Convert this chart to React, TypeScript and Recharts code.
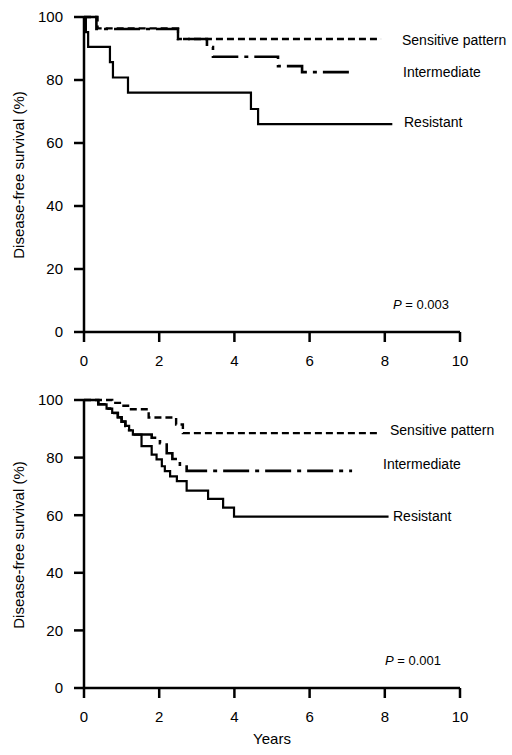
import React from 'react';
import { LineChart, Line, XAxis, YAxis, Label } from 'recharts';

// years / survival (%)
const topSensitive = [
  { t: 0, s: 100 }, { t: 0.36, s: 96.4 }, { t: 2.5, s: 93 }, { t: 7.9, s: 93 },
];
const topIntermediate = [
  { t: 0, s: 100 }, { t: 0.33, s: 96.2 }, { t: 2.5, s: 93 }, { t: 3.27, s: 90.5 },
  { t: 3.43, s: 87.4 }, { t: 5.16, s: 84.4 }, { t: 5.8, s: 82.5 }, { t: 7.2, s: 82.5 },
];
const topResistant = [
  { t: 0, s: 100 }, { t: 0.05, s: 95.2 }, { t: 0.11, s: 90.5 }, { t: 0.69, s: 85.7 },
  { t: 0.77, s: 80.8 }, { t: 1.17, s: 76 }, { t: 4.44, s: 70.8 }, { t: 4.63, s: 66 },
  { t: 8.2, s: 66 },
];

const botSensitive = [
  { t: 0, s: 100 }, { t: 0.75, s: 99 }, { t: 1.05, s: 98 }, { t: 1.25, s: 96.8 },
  { t: 1.72, s: 93.9 }, { t: 2.45, s: 91.5 }, { t: 2.63, s: 88.5 }, { t: 7.8, s: 88.5 },
];
const botIntermediate = [
  { t: 0, s: 100 }, { t: 0.38, s: 98.5 }, { t: 0.6, s: 97 }, { t: 0.75, s: 95.5 },
  { t: 0.9, s: 94 }, { t: 1.0, s: 92.5 }, { t: 1.1, s: 91 }, { t: 1.2, s: 89.5 },
  { t: 1.3, s: 88 }, { t: 1.8, s: 86.9 }, { t: 2.02, s: 85 }, { t: 2.2, s: 81.5 },
  { t: 2.35, s: 79.5 }, { t: 2.55, s: 77.5 }, { t: 2.73, s: 75.4 }, { t: 7.13, s: 75.4 },
];
const botResistant = [
  { t: 0, s: 100 }, { t: 0.38, s: 98.5 }, { t: 0.6, s: 97 }, { t: 0.75, s: 95.5 },
  { t: 0.9, s: 94 }, { t: 1.0, s: 92.5 }, { t: 1.1, s: 91 }, { t: 1.2, s: 89.5 },
  { t: 1.3, s: 88 }, { t: 1.53, s: 84 }, { t: 1.8, s: 81 }, { t: 1.93, s: 79.4 },
  { t: 2.07, s: 77 }, { t: 2.15, s: 75.3 }, { t: 2.29, s: 73.5 }, { t: 2.47, s: 71.8 },
  { t: 2.73, s: 68.5 }, { t: 3.3, s: 65.7 }, { t: 3.7, s: 62.6 }, { t: 3.99, s: 59.5 },
  { t: 8.1, s: 59.5 },
];

const xTicks = [0, 2, 4, 6, 8, 10];
const yTicks = [0, 20, 40, 60, 80, 100];

const FONT = '"Liberation Sans", Arial, sans-serif';
const tickStyle = { fontSize: 15, fill: '#000', fontFamily: FONT };
const axisLine = { stroke: '#000', strokeWidth: 2.5 };
const tickLine = { stroke: '#000', strokeWidth: 2.5 };

const SENS_DASH = '7 4';
const INT_DASH = '26 6 4 6';

type Pt = { t: number; s: number };

interface PanelProps {
  sens: Pt[];
  inter: Pt[];
  resist: Pt[];
  xHeight: number;
  height: number;
  years?: boolean;
}

const Panel: React.FC<PanelProps> = ({ sens, inter, resist, xHeight, height, years }) => (
  <LineChart width={512} height={height} margin={{ top: 17, right: 52, left: 0, bottom: 0 }}>
    <XAxis
      dataKey="t"
      type="number"
      domain={[0, 10]}
      ticks={xTicks}
      height={xHeight}
      tickSize={10}
      tickMargin={13}
      tick={tickStyle}
      axisLine={axisLine}
      tickLine={tickLine}
    >
      {years && <Label value="Years" position="insideBottom" offset={11} style={{ fontSize: 15, fill: '#000', fontFamily: FONT }} />}
    </XAxis>
    <YAxis
      dataKey="s"
      type="number"
      domain={[0, 100]}
      ticks={yTicks}
      width={84}
      tickSize={10}
      tickMargin={11}
      tick={tickStyle}
      axisLine={axisLine}
      tickLine={tickLine}
    />
    <Line data={sens} dataKey="s" type="stepAfter" stroke="#000" strokeWidth={2.4} strokeDasharray={SENS_DASH} dot={false} isAnimationActive={false} />
    <Line data={inter} dataKey="s" type="stepAfter" stroke="#000" strokeWidth={2.6} strokeDasharray={INT_DASH} dot={false} isAnimationActive={false} />
    <Line data={resist} dataKey="s" type="stepAfter" stroke="#000" strokeWidth={2.2} dot={false} isAnimationActive={false} />
  </LineChart>
);

const txt = (top: number, left: number, content: React.ReactNode, size = 14) => (
  <div style={{ position: 'absolute', top, left, fontSize: size, fontFamily: FONT, lineHeight: 1, whiteSpace: 'nowrap', color: '#000' }}>
    {content}
  </div>
);

const yLabel = (centerY: number) => (
  <div style={{ position: 'absolute', left: 18, top: centerY, width: 0, height: 0 }}>
    <div style={{
      position: 'absolute', transform: 'translate(-50%, -50%) rotate(-90deg)',
      fontSize: 15, fontFamily: FONT, whiteSpace: 'nowrap', color: '#000',
    }}>
      Disease-free survival (%)
    </div>
  </div>
);

export default function App() {
  return (
    <div style={{ position: 'absolute', top: 0, left: 0, width: 512, height: 755, background: '#fff' }}>
      <div style={{ position: 'absolute', top: 0, left: 0 }}>
        <Panel sens={topSensitive} inter={topIntermediate} resist={topResistant} xHeight={43} height={375} />
      </div>
      <div style={{ position: 'absolute', top: 383, left: 0 }}>
        <Panel sens={botSensitive} inter={botIntermediate} resist={botResistant} xHeight={67} height={372} years />
      </div>
      {yLabel(175)}
      {yLabel(545)}
      {txt(33, 402, 'Sensitive pattern')}
      {txt(65, 403, 'Intermediate')}
      {txt(115, 404, 'Resistant')}
      {txt(298, 393, <span><i>P</i>{' = 0.003'}</span>, 13)}
      {txt(423, 390, 'Sensitive pattern')}
      {txt(457, 383, 'Intermediate')}
      {txt(509, 393, 'Resistant')}
      {txt(654, 385, <span><i>P</i>{' = 0.001'}</span>, 13)}
    </div>
  );
}
